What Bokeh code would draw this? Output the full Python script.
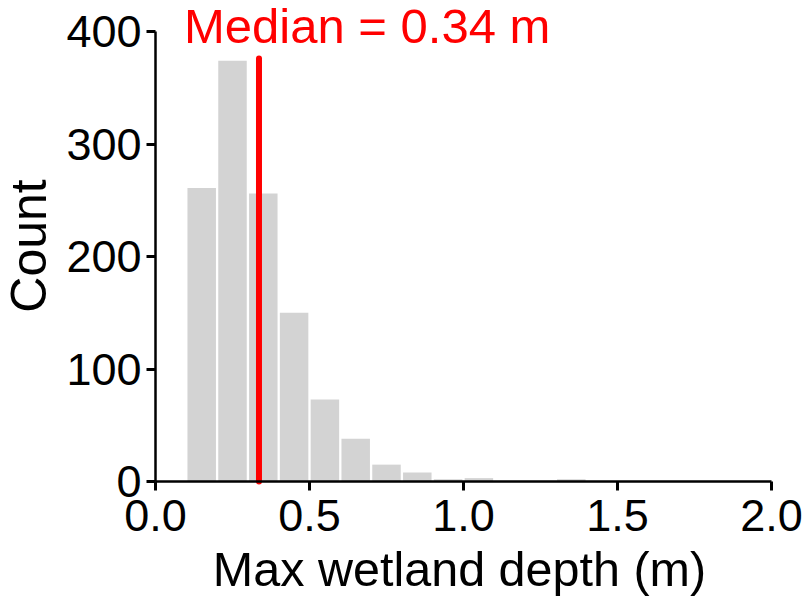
from bokeh.plotting import figure
from bokeh.models import Range1d, FixedTicker, NumeralTickFormatter
from bokeh.core.properties import value
from bokeh.embed import file_html
from bokeh.resources import INLINE

# ---- data ----
bin_edges = [0.1, 0.2, 0.3, 0.4, 0.5, 0.6, 0.7, 0.8, 0.9, 1.0, 1.1, 1.2, 1.3, 1.4]
counts = [261, 374, 256, 150, 73, 38, 15, 8, 2, 3, 0, 0, 2]
median_depth = 0.336
median_line_top = 376
x_ticks = [0.0, 0.5, 1.0, 1.5, 2.0]
y_ticks = [0, 100, 200, 300, 400]
title_text = "Median = %.2f m" % median_depth
x_title = "Max wetland depth (m)"
y_title = "Count"

FONT = "Liberation Sans"

# canvas pixel -> data mapping: x=0 at px 155, 308 px per unit; y=0 at px 481, 1.125 px per unit
W, H = 805, 596
X0, XS = 155.0, 308.0
Y0, YS = 481.0, 1.125

p = figure(width=W, height=H, output_backend="svg", toolbar_location=None,
           x_range=Range1d(-X0 / XS, (W - X0) / XS),
           y_range=Range1d((Y0 - H) / YS, Y0 / YS),
           min_border=0, min_border_left=0, min_border_right=0,
           min_border_top=0, min_border_bottom=0)

p.outline_line_color = None
p.grid.visible = False
p.background_fill_color = "white"
p.border_fill_color = "white"

# white gap between bars (about 2.3 px), drawn as a narrower fill
half_gap = 1.15 / XS
lefts = [e + half_gap for e in bin_edges[:-1]]
rights = [e - half_gap for e in bin_edges[1:]]
p.quad(left=lefts, right=rights, bottom=0, top=counts,
       fill_color="#D3D3D3", line_color=None)

p.segment(x0=[median_depth], y0=[0], x1=[median_depth], y1=[median_line_top],
          line_color="#FF0000", line_width=6, line_cap="round")

for ax in (p.xaxis[0], p.yaxis[0]):
    ax.fixed_location = 0
    ax.axis_line_width = 2.5
    ax.axis_line_color = "black"
    ax.major_tick_line_width = 3
    ax.major_tick_line_color = "black"
    ax.major_tick_in = 0
    ax.major_tick_out = 9
    ax.minor_tick_line_color = None
    ax.major_label_text_font = FONT
    ax.major_label_text_font_size = "45px"
    ax.major_label_text_color = "black"

p.xaxis.bounds = (x_ticks[0], x_ticks[-1])
p.xaxis.ticker = FixedTicker(ticks=x_ticks)
p.xaxis.formatter = NumeralTickFormatter(format="0.0")
p.xaxis.major_label_standoff = 9
p.yaxis.bounds = (y_ticks[0], y_ticks[-1])
p.yaxis.ticker = FixedTicker(ticks=y_ticks)
p.yaxis.major_label_standoff = 5

def px_x(px):
    return (px - X0) / XS

def px_y(py):
    return (Y0 - py) / YS

p.text(x=[px_x(183.5)], y=[px_y(25)], text=[title_text], text_font=value(FONT),
       text_font_size="49px", text_color="#FF0000",
       text_align="left", text_baseline="middle")
p.text(x=[px_x(459)], y=[px_y(568.5)], text=[x_title], text_font=value(FONT),
       text_font_size="48.5px", text_color="black",
       text_align="center", text_baseline="middle")
p.text(x=[px_x(28)], y=[px_y(245.5)], text=[y_title], text_font=value(FONT),
       text_font_size="50px", text_color="black", angle=1.5707963,
       text_align="center", text_baseline="middle")

open("out.html", "w").write(file_html(p, INLINE))
